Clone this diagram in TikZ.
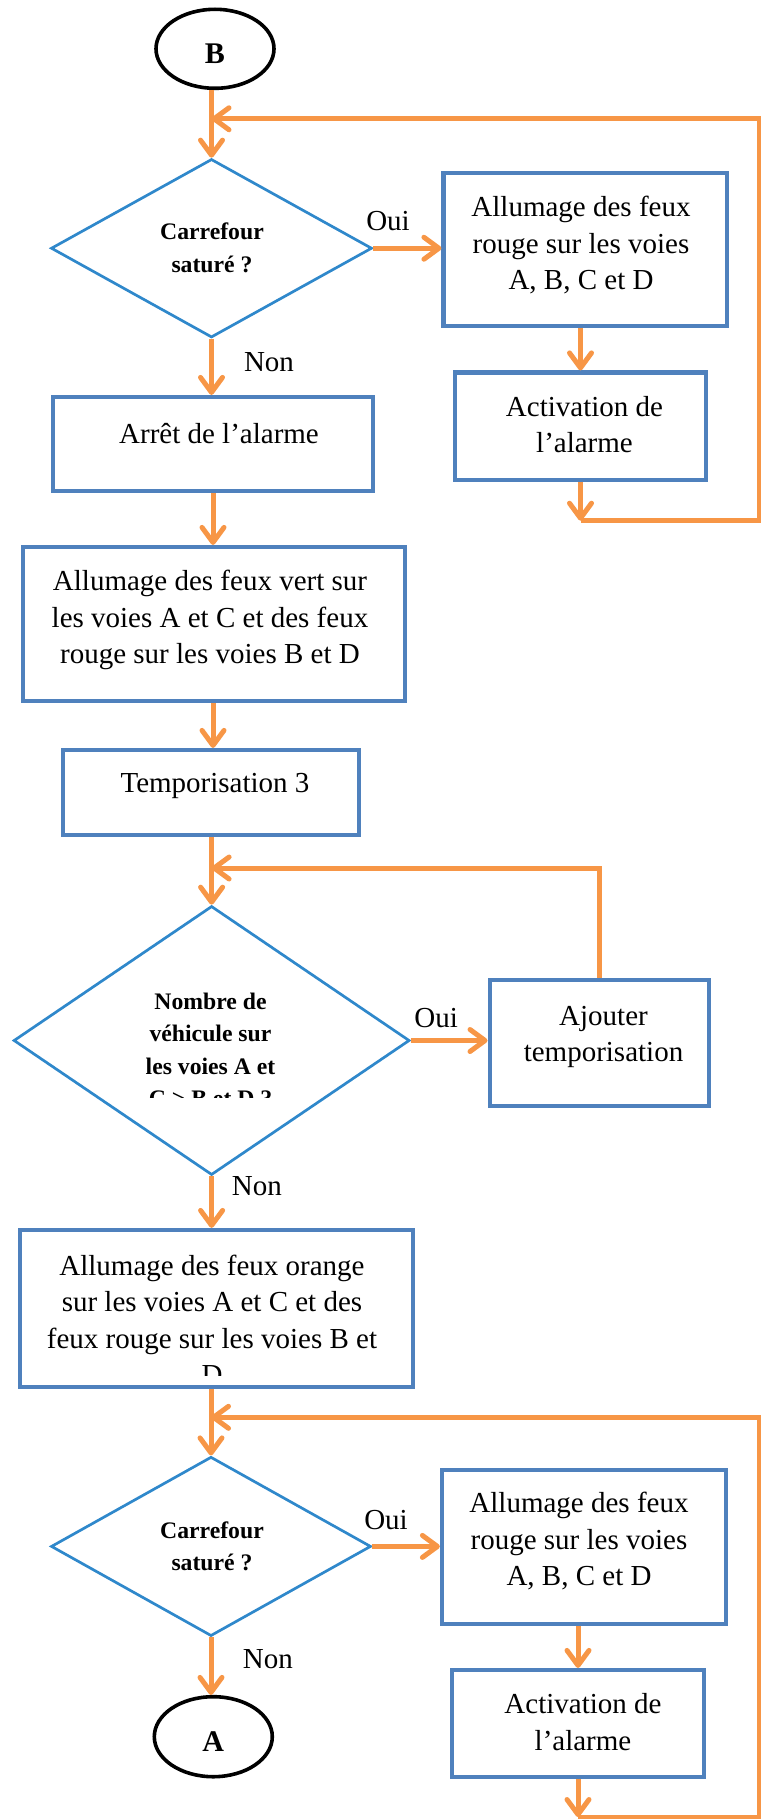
\documentclass[tikz,border=0pt]{standalone}
\usepackage{fontspec}
\setmainfont{Liberation Serif}
\usetikzlibrary{arrows.meta,shapes.geometric}
\definecolor{flow}{HTML}{F79646}
\definecolor{boxblue}{HTML}{4F81BD}
\definecolor{diablue}{HTML}{2F88CB}
\tikzset{
  procbox/.style={draw=boxblue, line width=4.2pt, rectangle, inner sep=0pt},
  decision/.style={draw=diablue, line width=2.7pt, diamond, inner sep=0pt},
  terminal/.style={draw=black, line width=3.6pt, ellipse, inner sep=0pt,
    text height=29.5pt, text depth=0pt,
    font=\fontsize{30}{36}\selectfont\bfseries},
  bodytext/.style={align=center, inner sep=0pt, font=\fontsize{29}{36.5}\selectfont},
  asktext/.style={align=center, inner sep=0pt, font=\fontsize{23.7}{32.6}\selectfont\bfseries},
  branch/.style={anchor=base, inner sep=0pt, font=\fontsize{29}{36.5}\selectfont},
  flowline/.style={draw=flow, line width=5pt},
  flowarrow/.style={flowline, -{Straight Barb[length=15pt,width=22pt,line cap=round,line join=round]}},
}
\begin{document}
\begin{tikzpicture}[x=1pt,y=-1pt]
\useasboundingbox (0,0) rectangle (760,1819);

% ---------- first block: saturation test ----------
\node[terminal, minimum width=118pt, minimum height=79pt] (B) at (215,48.8) {B};
\node[decision, minimum width=321pt, minimum height=178.5pt] (d1) at (211.5,248.25) {};
\node[asktext] (d1t) at (212,248) {Carrefour\\saturé ?};
\node[procbox, minimum width=283.5pt, minimum height=153pt] (b1) at (585.25,249.5) {};
\node[bodytext] (b1t) at (581,245.5) {Allumage des feux\\rouge sur les voies\\A, B, C et D};
\node[procbox, minimum width=251pt, minimum height=107.5pt] (b2) at (580.5,426.25) {};
\node[bodytext] (b2t) at (584.5,424.5) {Activation de\\l’alarme};
\node[procbox, minimum width=320pt, minimum height=94pt] (b3) at (213,444) {};
\node[bodytext] (b3t) at (219,433.5) {Arrêt de l’alarme};

% ---------- green phase ----------
\node[procbox, minimum width=382pt, minimum height=153.7pt] (b4) at (214,623.85) {};
\node[bodytext] (b4t) at (210,620) {Allumage des feux vert sur\\les voies A et C et des feux\\rouge sur les voies B et D};
\node[procbox, minimum width=296pt, minimum height=85pt] (b5) at (211,792.5) {};
\node[bodytext] (b5t) at (215,786) {Temporisation 3};

% ---------- vehicle count test ----------
\node[decision, minimum width=396pt, minimum height=269pt] (d2) at (211.6,1040.5) {};
\begin{scope}
  \clip (0,0) rectangle (760,1097.3);
  \node[asktext] (d2t) at (210.5,1050) {Nombre de\\véhicule sur\\les voies A et\\C > B et D ?};
\end{scope}
\node[procbox, minimum width=219.1pt, minimum height=126pt] (b6) at (599.15,1043) {};
\node[bodytext] (b6t) at (603.5,1037) {Ajouter\\temporisation};

% ---------- orange phase ----------
\node[procbox, minimum width=393pt, minimum height=157.3pt] (b7) at (216.5,1308.65) {};
\begin{scope}
  \clip (0,0) rectangle (760,1375);
  \node[bodytext] (b7t) at (212,1320) {Allumage des feux orange\\sur les voies A et C et des\\feux rouge sur les voies B et\\D};
\end{scope}

% ---------- second saturation test ----------
\node[decision, minimum width=320pt, minimum height=179.3pt] (d3) at (211,1546.4) {};
\node[asktext] (d3t) at (212,1546.5) {Carrefour\\saturé ?};
\node[procbox, minimum width=283.6pt, minimum height=154pt] (b8) at (583.8,1547) {};
\node[bodytext] (b8t) at (579,1541.5) {Allumage des feux\\rouge sur les voies\\A, B, C et D};
\node[procbox, minimum width=252pt, minimum height=107pt] (b9) at (578,1723.5) {};
\node[bodytext] (b9t) at (583,1722) {Activation de\\l’alarme};
\node[terminal, minimum width=118pt, minimum height=80pt] (A) at (213.3,1736.7) {A};

% ---------- branch labels ----------
\node[branch] (oui1) at (388,230.7) {Oui};
\node[branch] (non1) at (269,371.4) {Non};
\node[branch] (oui2) at (436.2,1027.7) {Oui};
\node[branch] (non2) at (256.9,1195) {Non};
\node[branch] (oui3) at (386,1529) {Oui};
\node[branch] (non3) at (267.8,1668.3) {Non};

% ---------- loop levels ----------
\coordinate (top1) at (0,118.8);
\coordinate (bot1) at (0,520.7);
\coordinate (loop2) at (0,868);
\coordinate (top3) at (0,1417.3);
\coordinate (bot3) at (0,1817);
\coordinate (edge) at (759,0);

% ---------- connectors ----------
\draw[flowarrow] (d1.north |- B.south) -- (d1.north);
\draw[flowarrow] (d1.east) -- (d1.east -| b1.west);
\draw[flowarrow] (b2.north |- b1.south) -- (b2.north);
\draw[flowarrow] (b2.south) -- (b2.south |- bot1);
\draw[flowarrow] (b2.south |- bot1) -- (edge |- bot1) -- (edge |- top1) -- (d1.north |- top1);
\draw[flowarrow] (d1.south) -- (d1.south |- b3.north);
\draw[flowarrow] (b3.south) -- (b3.south |- b4.north);
\draw[flowarrow] (b3.south |- b4.south) -- (b3.south |- b5.north);
\draw[flowarrow] (d2.north |- b5.south) -- (d2.north);
\draw[flowarrow] (d2.east) -- (d2.east -| b6.west);
\draw[flowarrow] (b6.north) -- (b6.north |- loop2) -- (d2.north |- loop2);
\draw[flowarrow] (d2.south) -- (d2.south |- b7.north);
\draw[flowarrow] (d3.north |- b7.south) -- (d3.north);
\draw[flowarrow] (d3.east) -- (d3.east -| b8.west);
\draw[flowarrow] (b9.north |- b8.south) -- (b9.north);
\draw[flowarrow] (b9.south) -- (b9.south |- bot3);
\draw[flowarrow] (b9.south |- bot3) -- (edge |- bot3) -- (edge |- top3) -- (d3.north |- top3);
\draw[flowarrow] (d3.south) -- (d3.south |- A.north);
\end{tikzpicture}
\end{document}
